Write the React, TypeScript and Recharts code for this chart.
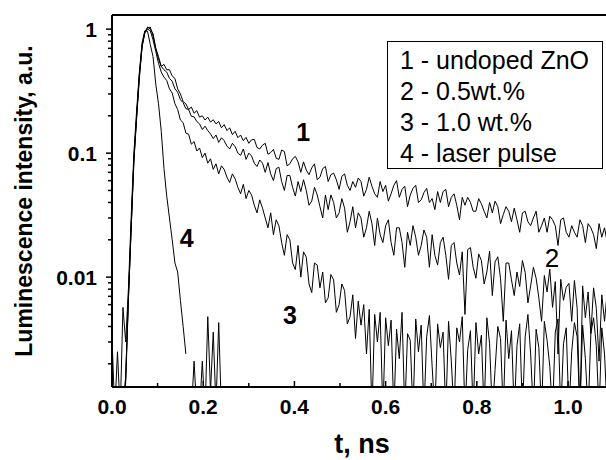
import React from 'react';
import { LineChart, Line, XAxis, YAxis, ReferenceLine, ReferenceDot } from 'recharts';

// time axis, ns
const time = [
  0, 0.006, 0.012, 0.018, 0.024, 0.03, 0.036, 0.042, 0.048, 0.054,
  0.06, 0.066, 0.072, 0.078, 0.084, 0.09, 0.096, 0.102, 0.108, 0.114,
  0.12, 0.126, 0.132, 0.138, 0.144, 0.15, 0.156, 0.162, 0.168, 0.174,
  0.18, 0.186, 0.192, 0.198, 0.204, 0.21, 0.216, 0.222, 0.228, 0.234,
  0.24, 0.246, 0.252, 0.258, 0.264, 0.27, 0.276, 0.282, 0.288, 0.294,
  0.3, 0.306, 0.312, 0.318, 0.324, 0.33, 0.336, 0.342, 0.348, 0.354,
  0.36, 0.366, 0.372, 0.378, 0.384, 0.39, 0.396, 0.402, 0.408, 0.414,
  0.42, 0.426, 0.432, 0.438, 0.444, 0.45, 0.456, 0.462, 0.468, 0.474,
  0.48, 0.486, 0.492, 0.498, 0.504, 0.51, 0.516, 0.522, 0.528, 0.534,
  0.54, 0.546, 0.552, 0.558, 0.564, 0.57, 0.576, 0.582, 0.588, 0.594,
  0.6, 0.606, 0.612, 0.618, 0.624, 0.63, 0.636, 0.642, 0.648, 0.654,
  0.66, 0.666, 0.672, 0.678, 0.684, 0.69, 0.696, 0.702, 0.708, 0.714,
  0.72, 0.726, 0.732, 0.738, 0.744, 0.75, 0.756, 0.762, 0.768, 0.774,
  0.78, 0.786, 0.792, 0.798, 0.804, 0.81, 0.816, 0.822, 0.828, 0.834,
  0.84, 0.846, 0.852, 0.858, 0.864, 0.87, 0.876, 0.882, 0.888, 0.894,
  0.9, 0.906, 0.912, 0.918, 0.924, 0.93, 0.936, 0.942, 0.948, 0.954,
  0.96, 0.966, 0.972, 0.978, 0.984, 0.99, 0.996, 1.002, 1.008, 1.014,
  1.02, 1.026, 1.032, 1.038, 1.044, 1.05, 1.056, 1.062, 1.068, 1.074,
  1.08, 1.086, 1.092,
];

// 1 - undoped ZnO
const undoped = [
  0.0008, 0.0008, 0.0008, 0.0008, 0.0008, 0.0016, 0.007, 0.026, 0.09, 0.2,
  0.43, 0.74, 0.94, 1.04, 1.0, 0.92, 0.7, 0.6, 0.5, 0.52,
  0.47, 0.47, 0.42, 0.4, 0.33, 0.3, 0.26, 0.25, 0.225, 0.235,
  0.21, 0.22, 0.195, 0.2, 0.185, 0.195, 0.178, 0.186, 0.172, 0.18,
  0.16, 0.17, 0.152, 0.16, 0.141, 0.15, 0.133, 0.14, 0.126, 0.134,
  0.12, 0.128, 0.129, 0.111, 0.108, 0.116, 0.12, 0.098, 0.101, 0.107,
  0.091, 0.089, 0.106, 0.103, 0.079, 0.082, 0.09, 0.094, 0.085, 0.07,
  0.085, 0.073, 0.067, 0.076, 0.082, 0.061, 0.064, 0.075, 0.078, 0.059,
  0.067, 0.069, 0.061, 0.051, 0.065, 0.068, 0.055, 0.05, 0.059, 0.053,
  0.063, 0.059, 0.045, 0.051, 0.064, 0.054, 0.047, 0.044, 0.059, 0.049,
  0.055, 0.041, 0.047, 0.055, 0.06, 0.044, 0.051, 0.054, 0.037, 0.046,
  0.052, 0.055, 0.04, 0.042, 0.048, 0.052, 0.04, 0.043, 0.035, 0.049,
  0.04, 0.049, 0.051, 0.037, 0.044, 0.047, 0.038, 0.029, 0.044, 0.038,
  0.044, 0.04, 0.034, 0.034, 0.043, 0.039, 0.034, 0.03, 0.04, 0.033,
  0.041, 0.037, 0.027, 0.032, 0.037, 0.034, 0.028, 0.036, 0.029, 0.023,
  0.033, 0.034, 0.028, 0.026, 0.03, 0.034, 0.023, 0.026, 0.03, 0.023,
  0.031, 0.029, 0.026, 0.018, 0.029, 0.03, 0.023, 0.021, 0.026, 0.023,
  0.021, 0.029, 0.026, 0.019, 0.027, 0.025, 0.022, 0.017, 0.027, 0.021,
  0.025, 0.019, 0.023,
];

// 2 - 0.5 wt.%
const doped05 = [
  0.0008, 0.0008, 0.0008, 0.0008, 0.0008, 0.0015, 0.0068, 0.025, 0.088, 0.2,
  0.42, 0.73, 0.95, 1.02, 1.04, 0.88, 0.7, 0.57, 0.5, 0.47,
  0.45, 0.4, 0.38, 0.33, 0.31, 0.27, 0.255, 0.228, 0.225, 0.198,
  0.196, 0.18, 0.172, 0.155, 0.165, 0.152, 0.143, 0.131, 0.14, 0.122,
  0.133, 0.126, 0.114, 0.108, 0.12, 0.113, 0.1, 0.096, 0.108, 0.089,
  0.1, 0.095, 0.083, 0.078, 0.088, 0.083, 0.07, 0.084, 0.068, 0.06,
  0.075, 0.077, 0.059, 0.05, 0.066, 0.066, 0.053, 0.045, 0.059, 0.049,
  0.061, 0.05, 0.038, 0.041, 0.053, 0.046, 0.037, 0.03, 0.046, 0.035,
  0.046, 0.04, 0.03, 0.033, 0.043, 0.036, 0.023, 0.028, 0.037, 0.025,
  0.033, 0.03, 0.021, 0.025, 0.034, 0.027, 0.018, 0.03, 0.022, 0.019,
  0.026, 0.029, 0.019, 0.015, 0.025, 0.025, 0.019, 0.012, 0.023, 0.018,
  0.026, 0.021, 0.015, 0.018, 0.024, 0.021, 0.012, 0.022, 0.015, 0.0125,
  0.019, 0.021, 0.015, 0.0096, 0.018, 0.019, 0.013, 0.0104, 0.016, 0.005,
  0.0167, 0.0173, 0.012, 0.0098, 0.0154, 0.0136, 0.0088, 0.011, 0.0162, 0.0071,
  0.0133, 0.0146, 0.0097, 0.0044, 0.013, 0.013, 0.0095, 0.0071, 0.011, 0.0084,
  0.0136, 0.0109, 0.0062, 0.0085, 0.012, 0.0098, 0.0068, 0.0044, 0.0103, 0.0076,
  0.0116, 0.0057, 0.0092, 0.0024, 0.0096, 0.0065, 0.0083, 0.0089, 0.0044, 0.0094,
  0.0056, 0.0008, 0.0085, 0.0047, 0.0076, 0.0035, 0.0082, 0.0056, 0.0021, 0.0072,
  0.0044, 0.0077, 0.0045,
];

// 3 - 1.0 wt.%
const doped10 = [
  0.0008, 0.0008, 0.0008, 0.0008, 0.0008, 0.0014, 0.0065, 0.024, 0.085, 0.19,
  0.4, 0.72, 0.93, 1.0, 0.97, 0.82, 0.66, 0.53, 0.45, 0.41,
  0.385, 0.33, 0.305, 0.25, 0.225, 0.185, 0.176, 0.145, 0.142, 0.118,
  0.124, 0.104, 0.11, 0.092, 0.1, 0.083, 0.09, 0.074, 0.082, 0.068,
  0.079, 0.074, 0.064, 0.058, 0.068, 0.062, 0.053, 0.047, 0.056, 0.043,
  0.05, 0.046, 0.038, 0.033, 0.042, 0.036, 0.03, 0.025, 0.033, 0.022,
  0.029, 0.026, 0.019, 0.015, 0.022, 0.02, 0.013, 0.0115, 0.018, 0.01,
  0.016, 0.0145, 0.0088, 0.0075, 0.013, 0.0125, 0.0082, 0.011, 0.0062, 0.0068,
  0.0105, 0.0095, 0.0052, 0.006, 0.0088, 0.0078, 0.0042, 0.0048, 0.0072, 0.0032,
  0.0064, 0.0041, 0.006, 0.0024, 0.0055, 0.0008, 0.005, 0.003, 0.0052, 0.0008,
  0.0047, 0.0028, 0.0045, 0.0008, 0.0038, 0.0022, 0.0052, 0.0008, 0.0035, 0.0031,
  0.0008, 0.0046, 0.0025, 0.0041, 0.0008, 0.0033, 0.0049, 0.0019, 0.0008, 0.0042,
  0.0027, 0.0036, 0.0008, 0.0044, 0.0021, 0.0008, 0.0039, 0.003, 0.0048, 0.0008,
  0.0026, 0.0037, 0.0008, 0.0043, 0.0024, 0.0034, 0.0008, 0.0047, 0.0029, 0.0008,
  0.0018, 0.004, 0.0032, 0.0008, 0.0045, 0.0022, 0.0037, 0.0008, 0.0028, 0.0042,
  0.0008, 0.0033, 0.005, 0.0024, 0.0008, 0.0038, 0.0027, 0.0008, 0.0044, 0.0031,
  0.0019, 0.0008, 0.0036, 0.0046, 0.0008, 0.0029, 0.0039, 0.0008, 0.0025, 0.0043,
  0.0033, 0.0008, 0.0041, 0.0022, 0.0008, 0.0035, 0.0047, 0.0028, 0.0008, 0.0039,
  0.0024, 0.0008, 0.0034,
];

// 4 - laser pulse (only the first part of the time axis)
const laserPulse: (number | null)[] = [
  0.0033, 0.0008, 0.0025, 0.0008, 0.0057, 0.003, 0.008, 0.03, 0.1, 0.22,
  0.45, 0.78, 0.97, 0.96, 0.75, 0.6, 0.36, 0.25, 0.15, 0.075,
  0.045, 0.03, 0.02, 0.013, 0.011, 0.0065, 0.004, 0.0024, null, 0.0008,
  0.0021, 0.0008, 0.0008, 0.0021, 0.0008, 0.0048, 0.0012, 0.0036, 0.0009, 0.0043,
  0.0008, 0.0008,
];

const xTicks = [0, 0.1, 0.2, 0.3, 0.4, 0.5, 0.6, 0.7, 0.8, 0.9, 1.0];
const xLabelled = [0, 0.2, 0.4, 0.6, 0.8, 1.0];
const yTicks = [
  0.002, 0.003, 0.004, 0.005, 0.006, 0.007, 0.008, 0.009,
  0.01, 0.02, 0.03, 0.04, 0.05, 0.06, 0.07, 0.08, 0.09,
  0.1, 0.2, 0.3, 0.4, 0.5, 0.6, 0.7, 0.8, 0.9, 1,
];
const yLabelled = [0.01, 0.1, 1];

const legendLines = ['1 - undoped ZnO', '2 - 0.5wt.%', '3 - 1.0 wt.%', '4 - laser pulse'];

const rows = time.map((t, i) => ({
  t,
  c1: undoped[i],
  c2: doped05[i],
  c3: doped10[i],
  c4: i < laserPulse.length ? laserPulse[i] : null,
}));

const FONT = '"Liberation Sans", Arial, Helvetica, sans-serif';

// curve number annotations, placed in data coordinates
const curveTags = [
  { text: '1', t: 0.419, v: 0.148, bold: true },
  { text: '2', t: 0.965, v: 0.0142, bold: false },
  { text: '3', t: 0.39, v: 0.00494, bold: true },
  { text: '4', t: 0.164, v: 0.0206, bold: true },
];

function XTick({ x, y, payload }: any) {
  const v = payload.value;
  const major = xLabelled.some((m) => Math.abs(m - v) < 1e-9);
  return (
    <g>
      <line x1={x} x2={x} y1={y} y2={y - (major ? 6 : 4)} stroke="#000" strokeWidth={1.5} />
      {major && (
        <text x={x} y={y + 27} textAnchor="middle" fontFamily={FONT} fontWeight="bold" fontSize={21} fill="#000">
          {v.toFixed(1)}
        </text>
      )}
    </g>
  );
}

function YTick({ x, y, payload }: any) {
  const v = payload.value;
  const major = yLabelled.some((m) => Math.abs(m - v) < 1e-12);
  return (
    <g>
      <line x1={x - (major ? 6 : 4)} x2={x} y1={y} y2={y} stroke="#000" strokeWidth={1.5} />
      {major && (
        <text x={x - 15} y={y + 7.5} textAnchor="end" fontFamily={FONT} fontWeight="bold" fontSize={21} fill="#000">
          {String(v)}
        </text>
      )}
    </g>
  );
}

export default function App() {
  return (
    <div style={{ position: 'relative', width: 606, height: 460, overflow: 'hidden', background: '#fff' }}>
      <style>{'body{margin:0}'}</style>
      <LineChart width={610} height={460} data={rows} margin={{ top: 15, right: 0, bottom: 0, left: 0 }}>
        <XAxis
          dataKey="t"
          type="number"
          domain={[0, 1.092]}
          allowDataOverflow
          ticks={xTicks}
          interval={0}
          tick={XTick}
          tickLine={false}
          tickSize={0}
          tickMargin={0}
          height={73}
          axisLine={{ stroke: '#000', strokeWidth: 2 }}
        />
        <YAxis
          type="number"
          scale="log"
          domain={[0.0013, 1.3]}
          allowDataOverflow
          ticks={yTicks}
          interval={0}
          tick={YTick}
          tickLine={false}
          tickSize={0}
          tickMargin={0}
          width={112}
          axisLine={{ stroke: '#000', strokeWidth: 2 }}
        />
        <ReferenceLine y={1.3} stroke="#000" strokeWidth={2} />
        <Line dataKey="c4" type="linear" stroke="#000" strokeWidth={1} dot={false} isAnimationActive={false} connectNulls={false} />
        <Line dataKey="c3" type="linear" stroke="#000" strokeWidth={1} dot={false} isAnimationActive={false} />
        <Line dataKey="c2" type="linear" stroke="#000" strokeWidth={1} dot={false} isAnimationActive={false} />
        <Line dataKey="c1" type="linear" stroke="#000" strokeWidth={1} dot={false} isAnimationActive={false} />
        {curveTags.map((c) => (
          <ReferenceDot
            key={c.text}
            x={c.t}
            y={c.v}
            r={0}
            fill="none"
            stroke="none"
            label={{
              value: c.text,
              position: 'center',
              fontSize: c.bold ? 25 : 26,
              fontWeight: c.bold ? 'bold' : 'normal',
              fontFamily: FONT,
              fill: '#000',
            }}
          />
        ))}
      </LineChart>
      <svg width={606} height={460} style={{ position: 'absolute', left: 0, top: 0, pointerEvents: 'none' }}>
        <text
          transform="translate(32,201) rotate(-90)"
          textAnchor="middle"
          fontFamily={FONT}
          fontWeight="bold"
          fontSize={23}
          fill="#000"
        >
          Luminescence intensity, a.u.
        </text>
        <text x={362} y={453} textAnchor="middle" fontFamily={FONT} fontWeight="bold" fontSize={27} fill="#000">
          t, ns
        </text>
      </svg>
      <div
        style={{
          position: 'absolute',
          left: 387,
          top: 41,
          width: 216,
          height: 128,
          boxSizing: 'border-box',
          border: '1px solid #000',
          background: '#fff',
          padding: '3px 0 0 12px',
          fontFamily: FONT,
          fontSize: 25,
          lineHeight: '31px',
          color: '#000',
          whiteSpace: 'nowrap',
        }}
      >
        {legendLines.map((l) => (
          <div key={l}>{l}</div>
        ))}
      </div>
    </div>
  );
}
